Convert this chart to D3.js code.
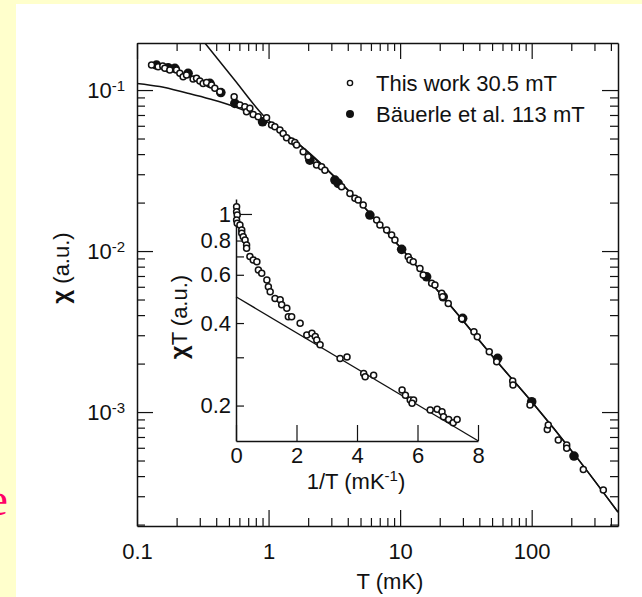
<!DOCTYPE html>
<html>
<head>
<meta charset="utf-8">
<script src="https://cdn.jsdelivr.net/npm/d3@7"></script>
<style>
  body { margin: 0; background: #ffffcc; }
  svg { display: block; }
  text { font-family: "Liberation Sans", Arial, Helvetica, sans-serif; fill: #111; }
</style>
</head>
<body>
<svg id="chart" width="642" height="597"></svg>
<script>
// main panel: chi (a.u.) against T (mK), log-log
const thisWorkT = [0.129, 0.1447, 0.157, 0.1627, 0.1776, 0.1997, 0.2116, 0.2242, 0.2379, 0.267, 0.2835, 0.3003,
  0.3181, 0.3377, 0.3685, 0.3904, 0.4263, 0.5475, 0.605, 0.6604, 0.68, 0.7207, 0.7637, 0.8334, 0.9656, 1.054,
  1.117, 1.219, 1.291, 1.37, 1.496, 1.585, 1.633, 1.833, 2.0, 2.317, 2.529, 2.68, 3.59, 4.153, 4.532, 4.8, 5.24,
  6.63, 7.02, 7.9, 8.62, 9.13, 11.52, 11.87, 12.58, 14.15, 14.98, 17.36, 18.39, 20.69, 21.05, 23.22, 29.5, 36.4,
  38.6, 47.6, 54.2, 71.7, 72.1, 97.1, 131.4, 133.7, 159.3, 184.6, 184.6, 246.9, 350.4];
const thisWorkChi = [0.143, 0.1395, 0.141, 0.1364, 0.1331, 0.1331, 0.127, 0.121, 0.124, 0.117, 0.1182, 0.1137,
  0.110, 0.1116, 0.1074, 0.1025, 0.0976, 0.0909, 0.0807, 0.0787, 0.0733, 0.077, 0.0706, 0.0683, 0.0673, 0.0606,
  0.0592, 0.0564, 0.0538, 0.0505, 0.0482, 0.0473, 0.0455, 0.0414, 0.0385, 0.0342, 0.0334, 0.0318, 0.0251, 0.0228,
  0.02125, 0.02075, 0.0193, 0.01558, 0.0145, 0.0135, 0.01258, 0.0117, 0.00922, 0.00879, 0.00858, 0.0078, 0.0071,
  0.0063, 0.00615, 0.00546, 0.0052, 0.00473, 0.0038, 0.00315, 0.00294, 0.00237, 0.00205, 0.001557, 0.00147,
  0.001105, 0.00078, 0.00083, 0.00067, 0.000624, 0.000595, 0.00044, 0.000328];

const bauerleT = [0.1407, 0.1724, 0.194, 0.2446, 0.3578, 0.4338, 0.5543, 0.9002, 2.061, 3.193, 3.38, 5.89,
  10.27, 15.9, 21.27, 29.88, 55.1, 100, 209.7];
const bauerleChi = [0.143, 0.1376, 0.1364, 0.127, 0.110, 0.0965, 0.0827, 0.0635, 0.0367, 0.0276, 0.02634,
  0.01674, 0.01025, 0.00692, 0.0052, 0.00382, 0.002156, 0.001159, 0.000533];

// the two drawn curves
const steepCurveT = [0.328, 0.554, 0.905, 1.73, 4.15, 9.97, 23.9, 57.4, 100.5, 213.4, 453];
const steepCurveChi = [0.196, 0.115, 0.070, 0.0455, 0.02325, 0.0106, 0.00462, 0.00196, 0.001153, 0.00054, 0.000239];
const flatCurveT = [0.1, 0.149, 0.239, 0.358, 0.535, 0.721, 0.954, 1.285, 1.73, 4.15, 9.97, 23.9, 57.4, 100.5, 213.4, 453];
const flatCurveChi = [0.110, 0.1051, 0.0958, 0.0879, 0.0795, 0.072, 0.0642, 0.0541, 0.0455, 0.02325, 0.0106,
  0.00462, 0.00196, 0.001153, 0.00054, 0.000239];

// inset: chi*T (a.u.) against 1/T (mK^-1)
const insetInvT = [0.02, 0.02, 0.04, 0.02, 0.04, 0.13, 0.19, 0.19, 0.24, 0.30, 0.35, 0.35, 0.46, 0.57, 0.69,
  0.74, 0.85, 1.02, 1.07, 1.13, 1.29, 1.46, 1.51, 1.68, 1.73, 1.84, 2.12, 2.34, 2.51, 2.62, 2.67, 2.78, 3.44,
  3.67, 4.22, 4.27, 4.55, 5.49, 5.60, 5.76, 5.87, 5.82, 6.42, 6.65, 6.81, 6.86, 7.03, 7.18, 7.31];
const insetChiT = [1.063, 1.019, 0.992, 0.951, 0.925, 0.912, 0.874, 0.85, 0.826, 0.804, 0.771, 0.75, 0.699,
  0.679, 0.67, 0.625, 0.608, 0.574, 0.543, 0.52, 0.492, 0.486, 0.466, 0.453, 0.422, 0.422, 0.399, 0.362, 0.367,
  0.357, 0.347, 0.333, 0.297, 0.301, 0.262, 0.255, 0.258, 0.228, 0.218, 0.2095, 0.2095, 0.2038, 0.1927, 0.1938,
  0.19, 0.182, 0.178, 0.173, 0.178];
const insetLineInvT = [0, 8];
const insetLineChiT = [0.499, 0.1488];

const xTicks = [0.1, 1, 10, 100];
const xTickLabels = ['0.1', '1', '10', '100'];
const yTicks = [1e-1, 1e-2, 1e-3];
const yTickExps = ['-1', '-2', '-3'];
const insetXTicks = [0, 2, 4, 6, 8];
const insetYTicks = [0.2, 0.4, 0.6, 0.8, 1];
const insetYTickLabels = ['0.2', '0.4', '0.6', '0.8', '1'];
const insetYMinor = [0.3, 0.7];
const legendLabels = ['This work 30.5 mT', 'B\u00e4uerle et al. 113 mT'];

const ink = '#111';
const svg = d3.select('#chart');

// white page over the yellow slide
svg.append('rect').attr('x', 16).attr('y', 4).attr('width', 626).attr('height', 593).attr('fill', '#fff');

// bit of slide text cut off at the left edge
svg.append('text')
  .attr('x', 8).attr('y', 515).attr('text-anchor', 'end')
  .style('font-family', '"Liberation Serif", "Times New Roman", serif')
  .style('font-size', '46px').style('fill', '#ff0066')
  .text('e');

const plotLeft = 137, plotRight = 618, plotTop = 43, plotBottom = 526;
const x = d3.scaleLog().domain([0.1, 453]).range([plotLeft, plotRight]);
const y = d3.scaleLog().domain([1.96e-4, 0.196]).range([plotBottom, plotTop]);

const isDecade = d => Math.abs(Math.log10(d) - Math.round(Math.log10(d))) < 1e-6;
const xMinor = x.ticks().filter(d => !isDecade(d));
const yMinor = y.ticks().filter(d => !isDecade(d));

function styleAxis(g, size) {
  g.attr('font-family', null).attr('font-size', null).attr('color', ink);
  g.selectAll('text').style('font-size', size);
  g.selectAll('line').attr('stroke-width', 1.2);
  g.select('.domain').attr('stroke-width', 1.5);
}

// bottom
svg.append('g').attr('transform', `translate(0,${plotBottom})`)
  .call(d3.axisBottom(x).tickValues(xTicks).tickFormat((d, i) => xTickLabels[i])
    .tickSizeInner(-16).tickSizeOuter(0).tickPadding(17))
  .call(g => styleAxis(g, '22px'));
svg.append('g').attr('transform', `translate(0,${plotBottom})`)
  .call(d3.axisBottom(x).tickValues(xMinor).tickFormat('').tickSizeInner(-8).tickSizeOuter(0))
  .call(g => { styleAxis(g, '22px'); g.select('.domain').remove(); });
// top
svg.append('g').attr('transform', `translate(0,${plotTop})`)
  .call(d3.axisTop(x).tickValues(xTicks).tickFormat('').tickSizeInner(-16).tickSizeOuter(0))
  .call(g => styleAxis(g, '22px'));
svg.append('g').attr('transform', `translate(0,${plotTop})`)
  .call(d3.axisTop(x).tickValues(xMinor).tickFormat('').tickSizeInner(-8).tickSizeOuter(0))
  .call(g => { styleAxis(g, '22px'); g.select('.domain').remove(); });
// left
const yAxis = svg.append('g').attr('transform', `translate(${plotLeft},0)`)
  .call(d3.axisLeft(y).tickValues(yTicks).tickFormat('').tickSizeInner(-16).tickSizeOuter(0).tickPadding(12))
  .call(g => styleAxis(g, '22px'));
yAxis.selectAll('.tick text').each(function(d, i) {
  const t = d3.select(this);
  t.append('tspan').text('10');
  t.append('tspan').attr('dy', -7).style('font-size', '15px').text(yTickExps[i]);
});
svg.append('g').attr('transform', `translate(${plotLeft},0)`)
  .call(d3.axisLeft(y).tickValues(yMinor).tickFormat('').tickSizeInner(-8).tickSizeOuter(0))
  .call(g => { styleAxis(g, '22px'); g.select('.domain').remove(); });
// right
svg.append('g').attr('transform', `translate(${plotRight},0)`)
  .call(d3.axisRight(y).tickValues(yTicks).tickFormat('').tickSizeInner(-16).tickSizeOuter(0))
  .call(g => styleAxis(g, '22px'));
svg.append('g').attr('transform', `translate(${plotRight},0)`)
  .call(d3.axisRight(y).tickValues(yMinor).tickFormat('').tickSizeInner(-8).tickSizeOuter(0))
  .call(g => { styleAxis(g, '22px'); g.select('.domain').remove(); });

// axis titles
svg.append('text').attr('x', 390).attr('y', 589).attr('text-anchor', 'middle')
  .style('font-size', '22px').text('T (mK)');
const yTitle = svg.append('text').attr('transform', 'translate(69,268) rotate(-90)')
  .attr('text-anchor', 'middle').style('font-size', '22px');
yTitle.append('tspan').style('font-weight', 'bold').style('font-size', '24px').text('\u03c7');
yTitle.append('tspan').text(' (a.u.)');

// inset
const ix = d3.scaleLinear().domain([0, 8]).range([236, 478]);
const iy = d3.scaleLog().domain([0.1485, 1.134]).range([441, 199]);

svg.append('g').attr('transform', 'translate(0,441)')
  .call(d3.axisBottom(ix).tickValues(insetXTicks).tickFormat(d3.format('d'))
    .tickSizeInner(-16).tickSizeOuter(0).tickPadding(6))
  .call(g => styleAxis(g, '22px'));
svg.append('g').attr('transform', 'translate(236,0)')
  .call(d3.axisLeft(iy).tickValues(insetYTicks).tickFormat((d, i) => insetYTickLabels[i])
    .tickSizeInner(-8).tickSizeOuter(0).tickPadding(5))
  .call(g => {
    styleAxis(g, '22px');
    g.selectAll('.tick').filter(d => d === 1).select('line').attr('x2', 16);
    g.selectAll('.tick text').attr('x', -5);
  });
svg.append('g').attr('transform', 'translate(236,0)')
  .call(d3.axisLeft(iy).tickValues(insetYMinor).tickFormat('').tickSizeInner(-8).tickSizeOuter(0))
  .call(g => { styleAxis(g, '22px'); g.select('.domain').remove(); });

const ixTitle = svg.append('text').attr('x', 356).attr('y', 489).attr('text-anchor', 'middle')
  .style('font-size', '22px');
ixTitle.append('tspan').text('1/T (mK');
ixTitle.append('tspan').attr('dy', -8).style('font-size', '15px').text('-1');
ixTitle.append('tspan').attr('dy', 8).text(')');
const iyTitle = svg.append('text').attr('transform', 'translate(187,317) rotate(-90)')
  .attr('text-anchor', 'middle').style('font-size', '22px');
iyTitle.append('tspan').style('font-weight', 'bold').style('font-size', '24px').text('\u03c7');
iyTitle.append('tspan').text('T (a.u.)');

// curves
svg.append('clipPath').attr('id', 'plotClip').append('rect')
  .attr('x', plotLeft).attr('y', plotTop).attr('width', plotRight - plotLeft).attr('height', plotBottom - plotTop);

const line = d3.line().x(d => x(d[0])).y(d => y(d[1])).curve(d3.curveMonotoneX);
svg.append('path').datum(d3.zip(steepCurveT, steepCurveChi))
  .attr('d', line).attr('fill', 'none').attr('stroke', ink).attr('stroke-width', 1.5)
  .attr('clip-path', 'url(#plotClip)');
svg.append('path').datum(d3.zip(flatCurveT, flatCurveChi))
  .attr('d', line).attr('fill', 'none').attr('stroke', ink).attr('stroke-width', 1.5)
  .attr('clip-path', 'url(#plotClip)');

const insetLine = d3.line().x(d => ix(d[0])).y(d => iy(d[1]));
svg.append('path').datum(d3.zip(insetLineInvT, insetLineChiT))
  .attr('d', insetLine).attr('fill', 'none').attr('stroke', ink).attr('stroke-width', 1.3);

// points
svg.append('g').selectAll('circle').data(d3.zip(bauerleT, bauerleChi)).join('circle')
  .attr('cx', d => x(d[0])).attr('cy', d => y(d[1])).attr('r', 4.8).attr('fill', ink);
svg.append('g').selectAll('circle').data(d3.zip(thisWorkT, thisWorkChi)).join('circle')
  .attr('cx', d => x(d[0])).attr('cy', d => y(d[1])).attr('r', 3)
  .attr('fill', '#fff').attr('stroke', ink).attr('stroke-width', 1.5);
svg.append('g').selectAll('circle').data(d3.zip(insetInvT, insetChiT)).join('circle')
  .attr('cx', d => ix(d[0])).attr('cy', d => iy(d[1])).attr('r', 3)
  .attr('fill', '#fff').attr('stroke', ink).attr('stroke-width', 1.5);

// legend
const legend = svg.append('g').attr('transform', 'translate(350,83)');
legend.append('circle').attr('cx', 0).attr('cy', 0).attr('r', 2.6)
  .attr('fill', '#fff').attr('stroke', ink).attr('stroke-width', 1.4);
legend.append('circle').attr('cx', 0).attr('cy', 31).attr('r', 4).attr('fill', ink);
legend.selectAll('text').data(legendLabels).join('text')
  .attr('x', 26).attr('y', (d, i) => 8 + i * 31)
  .style('font-size', '22px').text(d => d);
</script>
</body>
</html>
